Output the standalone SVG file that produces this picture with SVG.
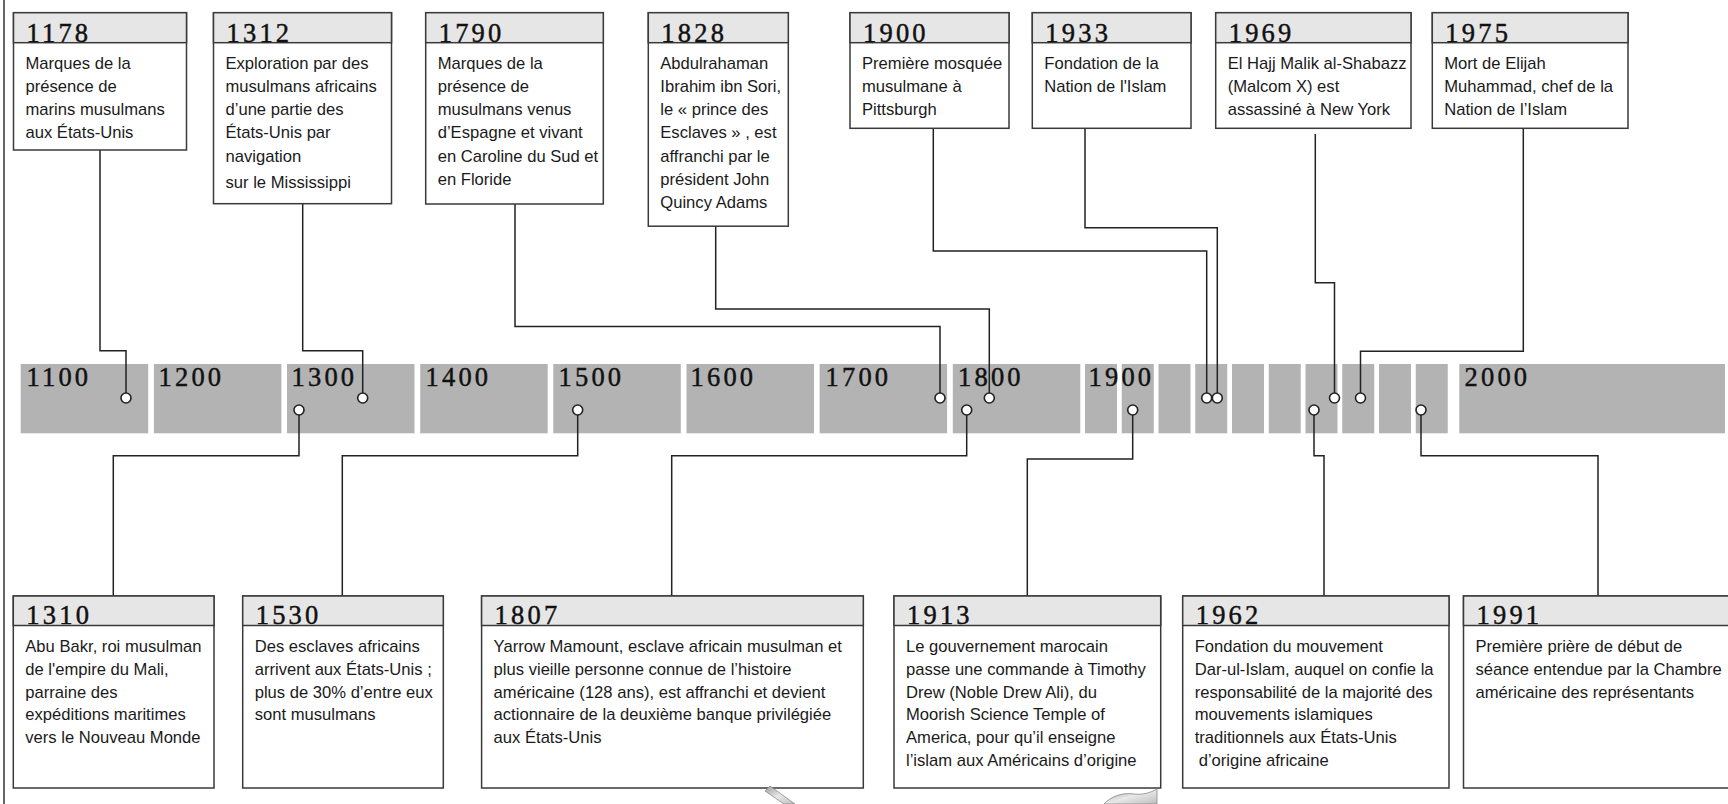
<svg xmlns="http://www.w3.org/2000/svg" width="1728" height="804" viewBox="0 0 1728 804">
<style>
.bg{fill:#ffffff}
.box{fill:#ffffff;stroke:#3a3a3a;stroke-width:1.5}
.hdr{fill:#e6e6e6;stroke:#3a3a3a;stroke-width:1.5}
.yr{font-family:"Liberation Serif","Times New Roman",serif;font-size:26.5px;letter-spacing:3.2px;fill:#111111;stroke:#111111;stroke-width:0.45}
.txt{font-family:"Liberation Sans",Arial,sans-serif;font-size:16.6px;fill:#1a1a1a}
.seg{fill:#b3b3b3}
.lbl{font-family:"Liberation Serif","Times New Roman",serif;font-size:26.5px;letter-spacing:3.2px;fill:#111111;stroke:#111111;stroke-width:0.45}
.conn{fill:none;stroke:#222222;stroke-width:1.5}
.dot{fill:#ffffff;stroke:#222222;stroke-width:1.6}
.frame{stroke:#333333;stroke-width:1.5}
</style>
<defs>
<linearGradient id="gq" x1="0" y1="0" x2="1" y2="1">
<stop offset="0" stop-color="#9a9a9a"/>
<stop offset="0.5" stop-color="#e8e8e8"/>
<stop offset="1" stop-color="#bdbdbd"/>
</linearGradient>
</defs>
<rect class="bg" x="0" y="0" width="1728" height="804"/>
<line class="frame" x1="4" y1="0" x2="4" y2="804"/>

<g id="timeline">
<rect class="seg" x="20.7" y="364" width="127.5" height="69.3"/>
<rect class="seg" x="153.9" y="364" width="127.5" height="69.3"/>
<rect class="seg" x="287" y="364" width="127.5" height="69.3"/>
<rect class="seg" x="420.2" y="364" width="127.5" height="69.3"/>
<rect class="seg" x="553.3" y="364" width="127.5" height="69.3"/>
<rect class="seg" x="686.5" y="364" width="127.5" height="69.3"/>
<rect class="seg" x="819.6" y="364" width="127.5" height="69.3"/>
<rect class="seg" x="952.8" y="364" width="127.5" height="69.3"/>
<rect class="seg" x="1085" y="364" width="32" height="69.3"/>
<rect class="seg" x="1121.75" y="364" width="32" height="69.3"/>
<rect class="seg" x="1158.5" y="364" width="32" height="69.3"/>
<rect class="seg" x="1195.25" y="364" width="32" height="69.3"/>
<rect class="seg" x="1232" y="364" width="32" height="69.3"/>
<rect class="seg" x="1268.75" y="364" width="32" height="69.3"/>
<rect class="seg" x="1305.5" y="364" width="32" height="69.3"/>
<rect class="seg" x="1342.25" y="364" width="32" height="69.3"/>
<rect class="seg" x="1379" y="364" width="32" height="69.3"/>
<rect class="seg" x="1415.75" y="364" width="32" height="69.3"/>
<rect class="seg" x="1459.3" y="364" width="265.7" height="69.3"/>
<text class="lbl" x="26.5" y="386">1100</text>
<text class="lbl" x="158.5" y="386">1200</text>
<text class="lbl" x="291.5" y="386">1300</text>
<text class="lbl" x="425.5" y="386">1400</text>
<text class="lbl" x="558.5" y="386">1500</text>
<text class="lbl" x="690.5" y="386">1600</text>
<text class="lbl" x="825.5" y="386">1700</text>
<text class="lbl" x="958" y="386">1800</text>
<text class="lbl" x="1088.5" y="386">1900</text>
<text class="lbl" x="1464.5" y="386">2000</text>
</g>

<g id="connectors">
<path class="conn" d="M100,150 V350.7 H126 V398"/>
<path class="conn" d="M302.7,203.7 V350.7 H362.7 V398"/>
<path class="conn" d="M515,204 V326.5 H940 V398"/>
<path class="conn" d="M715.7,226.2 V309 H989.3 V398"/>
<path class="conn" d="M933.3,128.3 V251 H1206.7 V398"/>
<path class="conn" d="M1085,128.3 V227.7 H1217.3 V398"/>
<path class="conn" d="M1315.3,134 V282.7 H1334.5 V398"/>
<path class="conn" d="M1523.3,128.3 V351.3 H1360.5 V398"/>
<path class="conn" d="M299,410 V455.7 H113.3 V596"/>
<path class="conn" d="M577.7,410 V455.7 H342.3 V596"/>
<path class="conn" d="M966.7,410 V455.7 H671.7 V596"/>
<path class="conn" d="M1132.7,410 V459 H1027.3 V596"/>
<path class="conn" d="M1314,410 V455.7 H1324 V596"/>
<path class="conn" d="M1421,410 V455.7 H1598 V596"/>
<circle class="dot" cx="126" cy="398" r="5"/>
<circle class="dot" cx="362.7" cy="398" r="5"/>
<circle class="dot" cx="940" cy="398" r="5"/>
<circle class="dot" cx="989.3" cy="398" r="5"/>
<circle class="dot" cx="1206.7" cy="398" r="5"/>
<circle class="dot" cx="1217.3" cy="398" r="5"/>
<circle class="dot" cx="1334.5" cy="398" r="5"/>
<circle class="dot" cx="1360.5" cy="398" r="5"/>
<circle class="dot" cx="299" cy="410" r="5"/>
<circle class="dot" cx="577.7" cy="410" r="5"/>
<circle class="dot" cx="966.7" cy="410" r="5"/>
<circle class="dot" cx="1132.7" cy="410" r="5"/>
<circle class="dot" cx="1314" cy="410" r="5"/>
<circle class="dot" cx="1421" cy="410" r="5"/>
</g>

<g id="n1178">
<rect class="box" x="13.5" y="12.7" width="173" height="137.3"/>
<rect class="hdr" x="13.5" y="12.7" width="173" height="30"/>
<text class="yr" x="26.5" y="41.5">1178</text>
<text class="txt" x="25.5" y="68.5">Marques de la</text>
<text class="txt" x="25.5" y="91.8">présence de</text>
<text class="txt" x="25.5" y="115.1">marins musulmans</text>
<text class="txt" x="25.5" y="138.4">aux États-Unis</text>
</g>

<g id="n1312">
<rect class="box" x="213.5" y="12.7" width="178" height="191"/>
<rect class="hdr" x="213.5" y="12.7" width="178" height="30"/>
<text class="yr" x="226.5" y="41.5">1312</text>
<text class="txt" x="225.5" y="68.5">Exploration par des</text>
<text class="txt" x="225.5" y="91.8">musulmans africains</text>
<text class="txt" x="225.5" y="115.1">d’une partie des</text>
<text class="txt" x="225.5" y="138.4">États-Unis par</text>
<text class="txt" x="225.5" y="161.7">navigation</text>
<text class="txt" x="225.5" y="188">sur le Mississippi</text>
</g>

<g id="n1790">
<rect class="box" x="425.7" y="12.7" width="177.6" height="191.3"/>
<rect class="hdr" x="425.7" y="12.7" width="177.6" height="30"/>
<text class="yr" x="438.7" y="41.5">1790</text>
<text class="txt" x="437.7" y="68.5">Marques de la</text>
<text class="txt" x="437.7" y="91.8">présence de</text>
<text class="txt" x="437.7" y="115.1">musulmans venus</text>
<text class="txt" x="437.7" y="138.4">d’Espagne et vivant</text>
<text class="txt" x="437.7" y="161.7">en Caroline du Sud et</text>
<text class="txt" x="437.7" y="185">en Floride</text>
</g>

<g id="n1828">
<rect class="box" x="648.3" y="12.7" width="140" height="213.5"/>
<rect class="hdr" x="648.3" y="12.7" width="140" height="30"/>
<text class="yr" x="661.3" y="41.5">1828</text>
<text class="txt" x="660.3" y="68.5">Abdulrahaman</text>
<text class="txt" x="660.3" y="91.8">Ibrahim ibn Sori,</text>
<text class="txt" x="660.3" y="115.1">le « prince des</text>
<text class="txt" x="660.3" y="138.4">Esclaves » , est</text>
<text class="txt" x="660.3" y="161.7">affranchi par le</text>
<text class="txt" x="660.3" y="185">président John</text>
<text class="txt" x="660.3" y="208.3">Quincy Adams</text>
</g>

<g id="n1900">
<rect class="box" x="850" y="12.7" width="159" height="115.6"/>
<rect class="hdr" x="850" y="12.7" width="159" height="30"/>
<text class="yr" x="863" y="41.5">1900</text>
<text class="txt" x="862" y="68.5">Première mosquée</text>
<text class="txt" x="862" y="91.8">musulmane à</text>
<text class="txt" x="862" y="115.1">Pittsburgh</text>
</g>

<g id="n1933">
<rect class="box" x="1032.3" y="12.7" width="158.7" height="115.6"/>
<rect class="hdr" x="1032.3" y="12.7" width="158.7" height="30"/>
<text class="yr" x="1045.3" y="41.5">1933</text>
<text class="txt" x="1044.3" y="68.5">Fondation de la</text>
<text class="txt" x="1044.3" y="91.8">Nation de l'Islam</text>
</g>

<g id="n1969">
<rect class="box" x="1215.7" y="12.7" width="195.3" height="115.6"/>
<rect class="hdr" x="1215.7" y="12.7" width="195.3" height="30"/>
<text class="yr" x="1228.7" y="41.5">1969</text>
<text class="txt" x="1227.7" y="68.5">El Hajj Malik al-Shabazz</text>
<text class="txt" x="1227.7" y="91.8">(Malcom X) est</text>
<text class="txt" x="1227.7" y="115.1">assassiné à New York</text>
</g>

<g id="n1975">
<rect class="box" x="1432.3" y="12.7" width="195.7" height="115.6"/>
<rect class="hdr" x="1432.3" y="12.7" width="195.7" height="30"/>
<text class="yr" x="1445.3" y="41.5">1975</text>
<text class="txt" x="1444.3" y="68.5">Mort de Elijah</text>
<text class="txt" x="1444.3" y="91.8">Muhammad, chef de la</text>
<text class="txt" x="1444.3" y="115.1">Nation de l’Islam</text>
</g>

<g id="n1310">
<rect class="box" x="13.3" y="596" width="200.7" height="192"/>
<rect class="hdr" x="13.3" y="596" width="200.7" height="29.5"/>
<text class="yr" x="26.3" y="624">1310</text>
<text class="txt" x="25.3" y="652.3">Abu Bakr, roi musulman</text>
<text class="txt" x="25.3" y="675">de l'empire du Mali,</text>
<text class="txt" x="25.3" y="697.7">parraine des</text>
<text class="txt" x="25.3" y="720.4">expéditions maritimes</text>
<text class="txt" x="25.3" y="743.1">vers le Nouveau Monde</text>
</g>

<g id="n1530">
<rect class="box" x="242.7" y="596" width="200.6" height="192"/>
<rect class="hdr" x="242.7" y="596" width="200.6" height="29.5"/>
<text class="yr" x="255.7" y="624">1530</text>
<text class="txt" x="254.7" y="652.3">Des esclaves africains</text>
<text class="txt" x="254.7" y="675">arrivent aux États-Unis ;</text>
<text class="txt" x="254.7" y="697.7">plus de 30% d’entre eux</text>
<text class="txt" x="254.7" y="720.4">sont musulmans</text>
</g>

<g id="n1807">
<rect class="box" x="481.6" y="596" width="381.7" height="192"/>
<rect class="hdr" x="481.6" y="596" width="381.7" height="29.5"/>
<text class="yr" x="494.6" y="624">1807</text>
<text class="txt" x="493.6" y="652.3">Yarrow Mamount, esclave africain musulman et</text>
<text class="txt" x="493.6" y="675">plus vieille personne connue de l’histoire</text>
<text class="txt" x="493.6" y="697.7">américaine (128 ans), est affranchi et devient</text>
<text class="txt" x="493.6" y="720.4">actionnaire de la deuxième banque privilégiée</text>
<text class="txt" x="493.6" y="743.1">aux États-Unis</text>
</g>

<g id="n1913">
<rect class="box" x="894" y="596" width="266.7" height="192"/>
<rect class="hdr" x="894" y="596" width="266.7" height="29.5"/>
<text class="yr" x="907" y="624">1913</text>
<text class="txt" x="906" y="652.3">Le gouvernement marocain</text>
<text class="txt" x="906" y="675">passe une commande à Timothy</text>
<text class="txt" x="906" y="697.7">Drew (Noble Drew Ali), du</text>
<text class="txt" x="906" y="720.4">Moorish Science Temple of</text>
<text class="txt" x="906" y="743.1">America, pour qu’il enseigne</text>
<text class="txt" x="906" y="765.8">l’islam aux Américains d’origine</text>
</g>

<g id="n1962">
<rect class="box" x="1182.7" y="596" width="266.3" height="192"/>
<rect class="hdr" x="1182.7" y="596" width="266.3" height="29.5"/>
<text class="yr" x="1195.7" y="624">1962</text>
<text class="txt" x="1194.7" y="652.3">Fondation du mouvement</text>
<text class="txt" x="1194.7" y="675">Dar-ul-Islam, auquel on confie la</text>
<text class="txt" x="1194.7" y="697.7">responsabilité de la majorité des</text>
<text class="txt" x="1194.7" y="720.4">mouvements islamiques</text>
<text class="txt" x="1194.7" y="743.1">traditionnels aux États-Unis</text>
<text class="txt" x="1198.7" y="765.8">d’origine africaine</text>
</g>

<g id="n1991">
<rect class="box" x="1463.5" y="596" width="280" height="192"/>
<rect class="hdr" x="1463.5" y="596" width="280" height="29.5"/>
<text class="yr" x="1476.5" y="624">1991</text>
<text class="txt" x="1475.5" y="652.3">Première prière de début de</text>
<text class="txt" x="1475.5" y="675">séance entendue par la Chambre</text>
<text class="txt" x="1475.5" y="697.7">américaine des représentants</text>
</g>

<g id="illustration-fragments">
<path d="M765,791 L770,786 L795,804 L784,804 Z" fill="url(#gq)" stroke="#8a8a8a" stroke-width="0.8"/>
<path d="M1104,804 C1110,797 1122,792 1134,794 C1142,795 1150,793 1157,789 L1157,804 Z" fill="url(#gq)" stroke="#8a8a8a" stroke-width="0.8"/>
</g>
</svg>
